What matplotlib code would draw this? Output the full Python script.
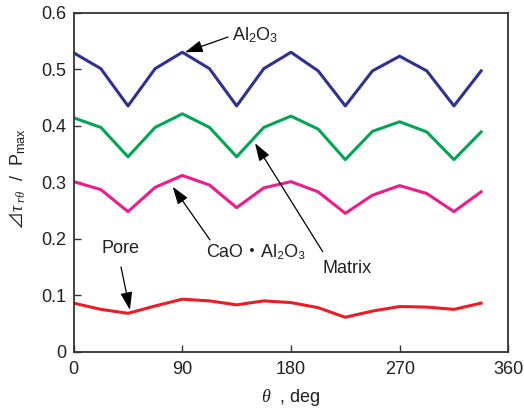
import matplotlib
matplotlib.use("Agg")
import matplotlib.pyplot as plt
from matplotlib.ticker import FuncFormatter

plt.rcParams['font.family'] = ['Liberation Sans', 'Noto Sans CJK JP', 'DejaVu Sans']
plt.rcParams['mathtext.fontset'] = 'custom'
plt.rcParams['mathtext.rm'] = 'Liberation Sans'
plt.rcParams['mathtext.it'] = 'Liberation Serif:italic'
plt.rcParams['mathtext.sf'] = 'Noto Sans CJK JP'

# data
theta = [0, 22.5, 45, 67.5, 90, 112.5, 135, 157.5, 180,
         202.5, 225, 247.5, 270, 292.5, 315, 337.5]
al2o3 = [0.529, 0.501, 0.435, 0.501, 0.530, 0.501, 0.435, 0.501, 0.530,
         0.497, 0.435, 0.497, 0.523, 0.497, 0.435, 0.497]
matrix = [0.414, 0.397, 0.345, 0.397, 0.421, 0.397, 0.345, 0.397, 0.417,
          0.394, 0.340, 0.390, 0.407, 0.389, 0.340, 0.389]
cao_al2o3 = [0.301, 0.287, 0.248, 0.291, 0.312, 0.295, 0.255, 0.290, 0.301,
             0.283, 0.245, 0.277, 0.294, 0.280, 0.248, 0.283]
pore = [0.086, 0.075, 0.068, 0.081, 0.093, 0.090, 0.083, 0.090, 0.087,
        0.078, 0.061, 0.072, 0.080, 0.079, 0.075, 0.086]

x_ticks = [0, 90, 180, 270, 360]
y_ticks = [0, 0.1, 0.2, 0.3, 0.4, 0.5, 0.6]

txt = '#231f20'
fs = 13
fig = plt.figure(figsize=(5.24, 4.09), dpi=100)
ax = fig.add_axes([0.1406, 0.140, 0.8294, 0.829])

lw = 2.2
ax.plot(theta, al2o3, color='#2e3192', lw=lw)
ax.plot(theta, matrix, color='#00a651', lw=lw)
ax.plot(theta, cao_al2o3, color='#ec1c8c', lw=lw)
ax.plot(theta, pore, color='#ed1c24', lw=lw)

ax.set_xlim(0, 360)
ax.set_ylim(0, 0.6)
ax.set_xticks(x_ticks)
ax.set_yticks(y_ticks)
ax.yaxis.set_major_formatter(FuncFormatter(lambda v, p: '0' if v == 0 else '%.1f' % v))
ax.tick_params(direction='in', length=5, width=1, colors='#333333',
               labelsize=fs, labelcolor=txt)
ax.tick_params(axis='x', pad=7)
ax.tick_params(axis='y', pad=5)
for s in ax.spines.values():
    s.set_color('#333333')
    s.set_linewidth(1.3)

ax.set_xlabel(r'$\theta$  , deg', fontsize=fs, color=txt)
ax.set_ylabel(r'$\mathsf{⊿}\tau_{\ r\theta}$  /  P$_{\rm max}$', fontsize=fs, color=txt)
ax.xaxis.set_label_coords(0.5, -0.105)
ax.yaxis.set_label_coords(-0.105, 0.51)

arrow = dict(arrowstyle='-|>,head_length=0.9,head_width=0.3', color='black',
             lw=0.9, mutation_scale=12, shrinkA=0, shrinkB=0)

# (label, arrow tip, arrow start, text position, alignment)
notes = [
    ('Al$_2$O$_3$', (92.2, 0.530), (127.9, 0.557), (131.1, 0.560), 'left'),
    ('Matrix', (150.2, 0.369), (206.3, 0.177), (226.4, 0.148), 'center'),
    ('CaO・Al₂O₃', (82.0, 0.292), (112.9, 0.198), (150.6, 0.175), 'center'),
    ('Pore', (46.6, 0.074), (39.2, 0.150), (39.2, 0.183), 'center'),
]
for label, tip, start, pos, ha in notes:
    ax.annotate('', xy=tip, xytext=start, arrowprops=arrow)
    ax.text(pos[0], pos[1], label, fontsize=fs, color=txt, ha=ha, va='center')

fig.savefig('out.png', dpi=100)
